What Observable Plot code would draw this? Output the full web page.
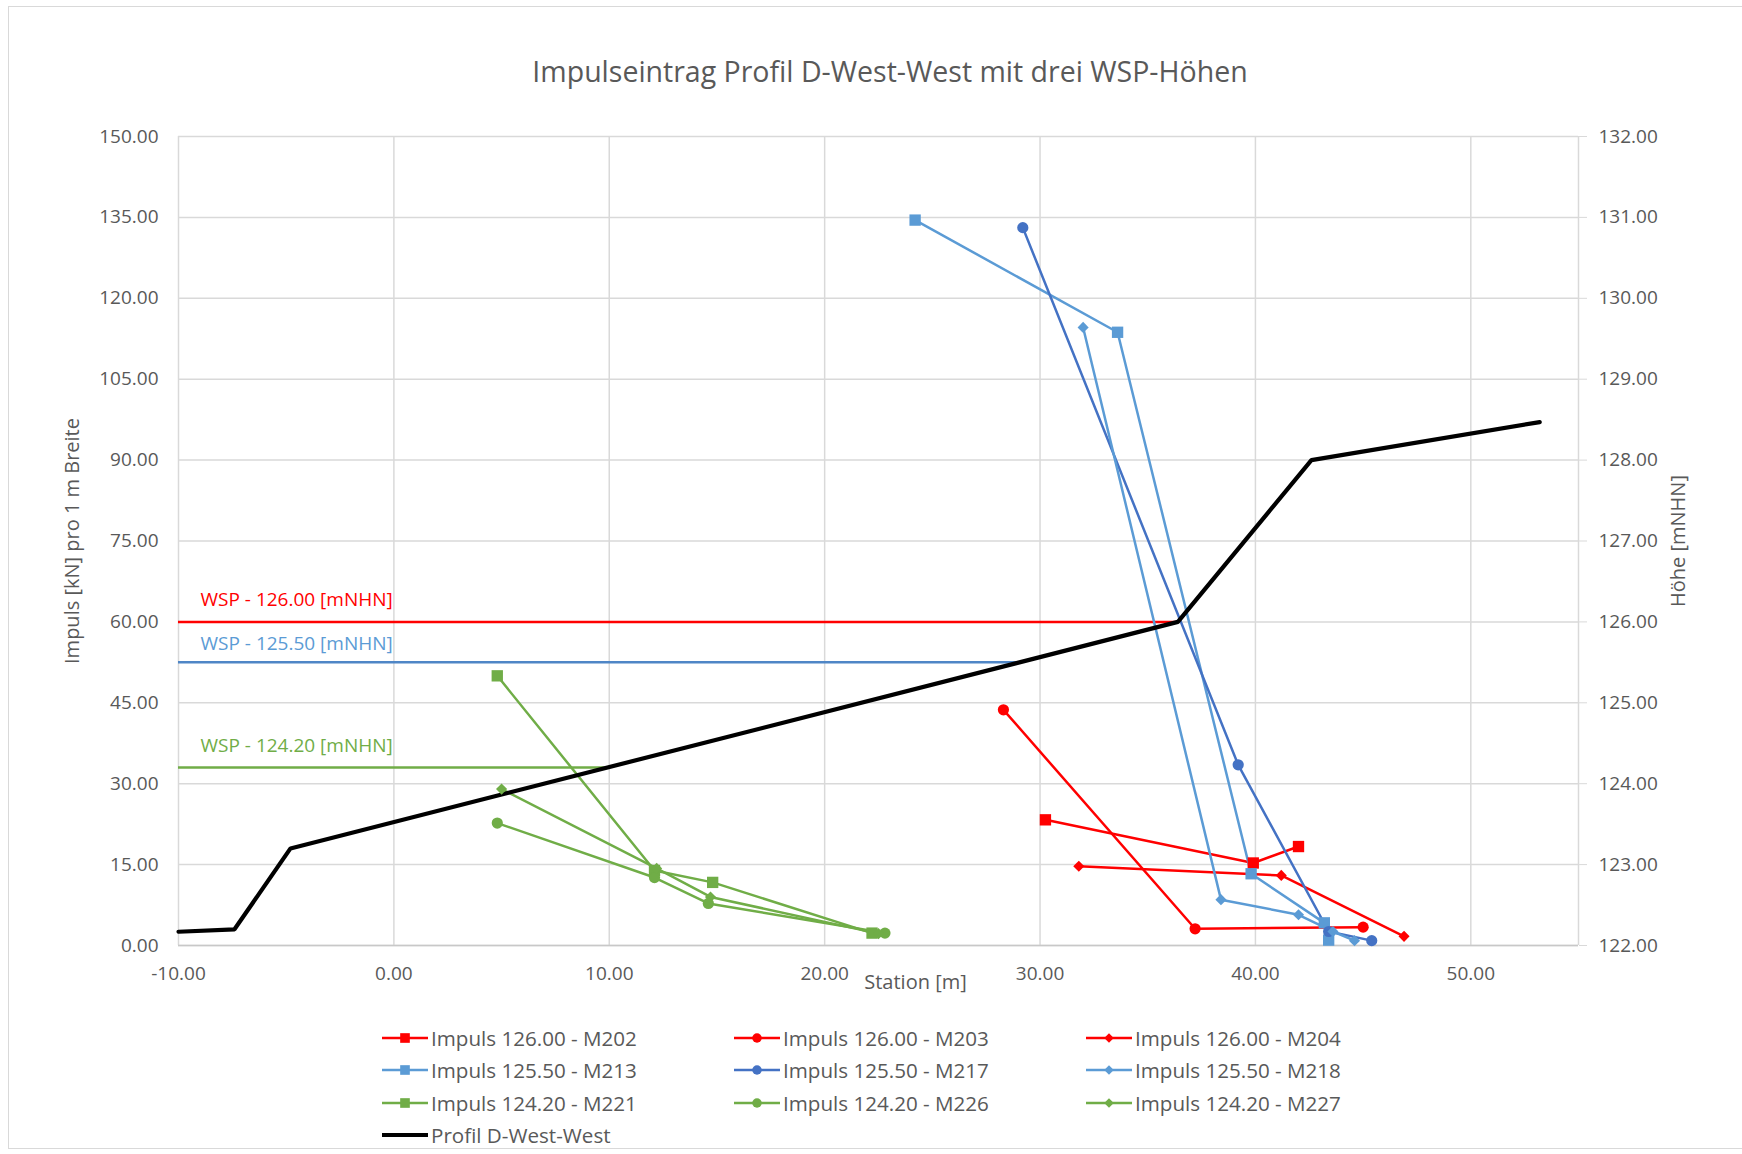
<!DOCTYPE html>
<html>
<head>
<meta charset="utf-8">
<script src="https://cdn.jsdelivr.net/npm/d3@7"></script>
<script src="https://cdn.jsdelivr.net/npm/@observablehq/plot@0.6"></script>
<style>
  html, body { margin: 0; padding: 0; background: #fff; }
  #chart { position: relative; width: 1742px; height: 1154px; font-family: "Open Sans", sans-serif; color: #595959; }
  #border { position: absolute; left: 8px; top: 6px; width: 1740px; height: 1143px; border: 1.5px solid #d9d9d9; box-sizing: border-box; }
  #title { position: absolute; left: 19px; top: 0; width: 1742px; height: 100px; text-align: center; font-size: 28.5px; line-height: 28px; padding-top: 57px; box-sizing: border-box; color: #595959; }
  #plot { position: absolute; left: 0; top: 100px; }
  #legend { position: absolute; left: 381px; top: 1022px; display: grid; grid-template-columns: 352px 352px 352px; grid-auto-rows: 32.3px; }
  .item { display: flex; align-items: center; font-size: 20.6px; color: #595959; white-space: nowrap; }
  .item svg { margin-right: 2px; }
</style>
</head>
<body>
<div id="chart">
  <div id="border"></div>
  <div id="title"></div>
  <div id="plot"></div>
  <div id="legend"></div>
</div>
<script>
// ---- Texts ----
const titleText = "Impulseintrag Profil D-West-West mit drei WSP-Höhen";
const yLabelLeft = "Impuls [kN] pro 1 m Breite";
const yLabelRight = "Höhe [mNHN]";
const xLabel = "Station [m]";

// ---- Axes ----
const xTicks = [-10, 0, 10, 20, 30, 40, 50];
const yTicks = [0, 15, 30, 45, 60, 75, 90, 105, 120, 135, 150];
const xDomain = [-10, 55];
const yDomain = [0, 150];
const hoeheBase = 122;      // right axis: 122.00 .. 132.00
const hoehePerImpuls = 1 / 15;

// ---- Impulse series: [station, impuls] ----
const m202 = [[30.25, 23.3], [39.9, 15.3], [42.0, 18.35]];
const m203 = [[28.3, 43.7], [37.2, 3.1], [45.0, 3.4]];
const m204 = [[31.8, 14.7], [41.2, 13.0], [46.9, 1.7]];
const m213 = [[24.2, 134.5], [33.6, 113.7], [39.8, 13.3], [43.2, 4.2], [43.4, 1.0]];
const m217 = [[29.2, 133.1], [39.2, 33.5], [43.4, 2.6], [45.4, 0.9]];
const m218 = [[32.0, 114.6], [38.4, 8.5], [42.0, 5.7], [43.6, 2.6], [44.6, 0.9]];
const m221 = [[4.8, 50.0], [12.1, 13.9], [14.8, 11.7], [22.2, 2.3]];
const m226 = [[4.8, 22.7], [12.1, 12.6], [14.6, 7.8], [22.8, 2.3]];
const m227 = [[5.0, 29.0], [12.2, 14.3], [14.7, 9.0], [22.5, 2.2]];

// ---- Terrain profile (right axis, Höhe) ----
const profilStation = [-10, -7.4, -4.8, 36.4, 42.6, 53.2];
const profilHoehe = [122.17, 122.2, 123.2, 126.0, 128.0, 128.47];

// ---- Water levels (WSP) ----
const wspHoehe = [126.00, 125.50, 124.20];
const wspEndStation = [36.4, 29.0, 10.0];
const wspLabels = ["WSP - 126.00 [mNHN]", "WSP - 125.50 [mNHN]", "WSP - 124.20 [mNHN]"];

// ---- Styles ----
const RED = "#FF0000", BLUE = "#5B9BD5", BLUE2 = "#4472C4", GREEN = "#70AD47";
const series = [
  {name: "Impuls 126.00 - M202", data: m202, color: RED, symbol: "square"},
  {name: "Impuls 126.00 - M203", data: m203, color: RED, symbol: "circle"},
  {name: "Impuls 126.00 - M204", data: m204, color: RED, symbol: "diamond2"},
  {name: "Impuls 125.50 - M213", data: m213, color: BLUE, symbol: "square"},
  {name: "Impuls 125.50 - M217", data: m217, color: BLUE2, symbol: "circle"},
  {name: "Impuls 125.50 - M218", data: m218, color: BLUE, symbol: "diamond2"},
  {name: "Impuls 124.20 - M221", data: m221, color: GREEN, symbol: "square"},
  {name: "Impuls 124.20 - M226", data: m226, color: GREEN, symbol: "circle"},
  {name: "Impuls 124.20 - M227", data: m227, color: GREEN, symbol: "diamond2"}
];
const wspColors = [RED, "#4F86C6", GREEN];
const wspTextColors = [RED, BLUE, GREEN];
const wspLabelDy = [-22, -18, -22];
const symbolR = {square: 6.4, circle: 5.6, diamond2: 5};

const toImpuls = h => (h - hoeheBase) / hoehePerImpuls;
const fmt2 = d => d.toFixed(2);

document.getElementById("title").textContent = titleText;

const profil = profilStation.map((s, i) => ({x: s, y: toImpuls(profilHoehe[i])}));
const wsp = wspHoehe.map((h, i) => ({h, x1: xDomain[0], x2: wspEndStation[i], label: wspLabels[i], color: wspColors[i], tcolor: wspTextColors[i], dy: wspLabelDy[i]}));

const marks = [
  Plot.gridY(yTicks, {stroke: "#d9d9d9", strokeOpacity: 1, strokeWidth: 1.5}),
  Plot.gridX(xTicks, {stroke: "#d9d9d9", strokeOpacity: 1, strokeWidth: 1.5}),
  Plot.ruleX([xDomain[1]], {stroke: "#d9d9d9", strokeWidth: 1.5}),
  Plot.ruleY([0], {stroke: "#c8c8c8", strokeWidth: 1.5}),
  Plot.axisY(yTicks, {anchor: "left", tickSize: 0, tickPadding: 20, tickFormat: fmt2, fontSize: 19, label: null}),
  Plot.axisY(yTicks, {anchor: "right", tickSize: 8, tickPadding: 12, stroke: "#d9d9d9", tickFormat: d => (hoeheBase + d * hoehePerImpuls).toFixed(2), fontSize: 19, label: null}),
  Plot.axisX(xTicks, {anchor: "bottom", tickSize: 0, tickPadding: 21, tickFormat: fmt2, fontSize: 19, label: null}),
  Plot.text([yLabelLeft], {frameAnchor: "left", dx: -106, rotate: -90, textAnchor: "middle", fontSize: 20, fill: "#595959"}),
  Plot.text([yLabelRight], {frameAnchor: "right", dx: 100, rotate: -90, textAnchor: "middle", fontSize: 20, fill: "#595959"}),
  Plot.text([xLabel], {frameAnchor: "bottom", dx: 37, dy: 43, fontSize: 20, fill: "#595959"})
];

// WSP lines and labels
for (const w of wsp) {
  marks.push(Plot.ruleY([w], {y: d => toImpuls(d.h), x1: "x1", x2: "x2", stroke: w.color, strokeWidth: 2.5}));
  marks.push(Plot.text([w], {x: "x1", y: d => toImpuls(d.h), text: "label", fill: w.tcolor, textAnchor: "start", dx: 22, dy: w.dy, fontSize: 19}));
}

for (const s of series) {
  marks.push(Plot.line(s.data, {x: d => d[0], y: d => d[1], stroke: s.color, strokeWidth: 2.5}));
}
marks.push(Plot.line(profil, {x: "x", y: "y", stroke: "#000", strokeWidth: 4.2, strokeLinejoin: "miter"}));
for (const s of series) {
  marks.push(Plot.dot(s.data, {x: d => d[0], y: d => d[1], symbol: () => s.symbol, fill: s.color, stroke: "none", r: symbolR[s.symbol]}));
}

const chart = Plot.plot({
  width: 1742,
  height: 920,
  marginLeft: 178,
  marginRight: 164,
  marginTop: 36,
  marginBottom: 75,
  x: {domain: xDomain, axis: null},
  y: {domain: yDomain, axis: null},
  symbol: {type: "identity"},
  style: {fontFamily: "Open Sans, sans-serif", fontSize: "19px", color: "#595959", background: "transparent"},
  marks
});
document.getElementById("plot").appendChild(chart);

// ---- Legend ----
const legend = document.getElementById("legend");
const symbolMap = {square: d3.symbolSquare, circle: d3.symbolCircle, diamond2: d3.symbolDiamond2};
const legendItems = series.map(s => ({name: s.name, color: s.color, symbol: s.symbol})).concat([{name: "Profil D-West-West", color: "#000", symbol: null}]);
for (const it of legendItems) {
  const div = document.createElement("div");
  div.className = "item";
  const svg = d3.create("svg").attr("width", 48).attr("height", 20);
  svg.append("line").attr("x1", 1).attr("x2", 47).attr("y1", 10).attr("y2", 10)
    .attr("stroke", it.color).attr("stroke-width", it.symbol ? 2.5 : 4.2);
  if (it.symbol) {
    const r = symbolR[it.symbol] * 0.85;
    svg.append("path").attr("transform", "translate(24,10)")
      .attr("d", d3.symbol(symbolMap[it.symbol], Math.PI * r * r)())
      .attr("fill", it.color);
  }
  div.appendChild(svg.node());
  const span = document.createElement("span");
  span.textContent = it.name;
  div.appendChild(span);
  legend.appendChild(div);
}
</script>
</body>
</html>
